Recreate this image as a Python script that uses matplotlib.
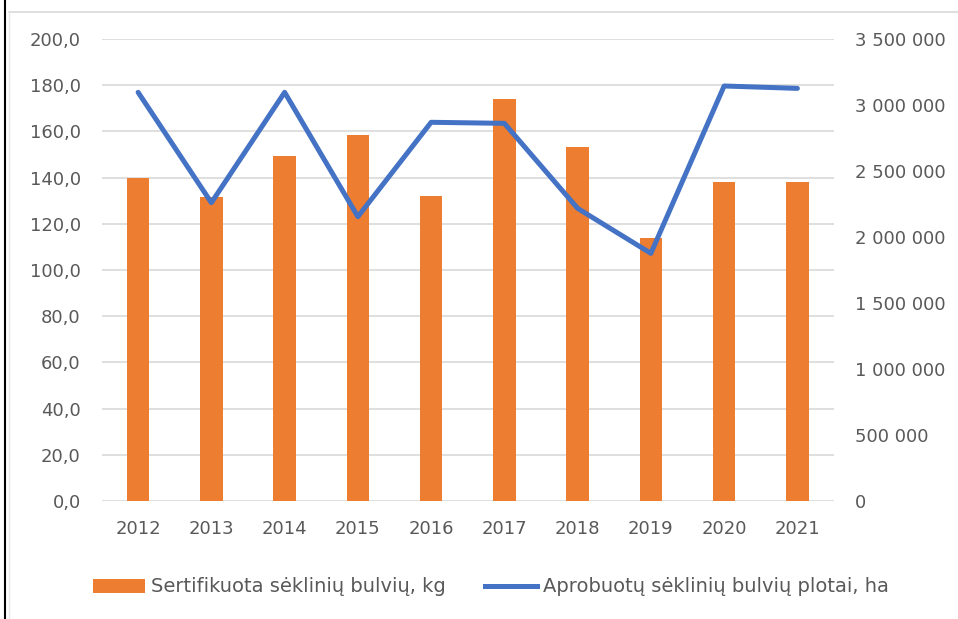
import matplotlib.pyplot as plt
import matplotlib.ticker as mticker
from matplotlib.lines import Line2D
from matplotlib.patches import Patch
import numpy as np

years = ['2012', '2013', '2014', '2015', '2016', '2017', '2018', '2019', '2020', '2021']
certified_kg = [140.0, 131.5, 149.5, 158.3, 132.2, 174.0, 153.2, 114.0, 138.3, 138.3]
approved_ha = [3096000, 2260000, 3096000, 2154000, 2869000, 2861000, 2217000, 1876000, 3144000, 3126000]

bar_label = 'Sertifikuota sėklinių bulvių, kg'
line_label = 'Aprobuotų sėklinių bulvių plotai, ha'

orange = '#ED7D31'
blue = '#4472C4'
grid_c = '#D9D9D9'
text_c = '#595959'

plt.rcParams['font.family'] = ['DejaVu Sans']
plt.rcParams['font.size'] = 13

fig = plt.figure(figsize=(9.58, 6.19), dpi=100)
ax = fig.add_axes([101.5 / 958, 1 - 501 / 619, (834 - 101.5) / 958, (501 - 39) / 619])

x = np.arange(len(years))
ax.bar(x, certified_kg, width=0.31, color=orange, zorder=2)
ax.set_xlim(-0.5, len(years) - 0.5)
ax.set_ylim(0, 200)
ax.set_yticks(np.arange(0, 201, 20))
ax.yaxis.set_major_formatter(mticker.FuncFormatter(lambda v, p: f'{v:.1f}'.replace('.', ',')))
ax.set_xticks(x)
ax.set_xticklabels(years)
ax.grid(axis='y', color=grid_c, linewidth=1.2, zorder=0)
ax.set_axisbelow(True)
for s in ax.spines.values():
    s.set_visible(False)
ax.tick_params(length=0, colors=text_c, labelsize=13)
ax.tick_params(axis='y', pad=15)
ax.tick_params(axis='x', pad=14)

ax2 = ax.twinx()
ax2.plot(x, approved_ha, color=blue, linewidth=3.6, solid_capstyle='round', zorder=3)
ax2.set_ylim(0, 3500000)
ax2.set_yticks(np.arange(0, 3500001, 500000))
ax2.yaxis.set_major_formatter(mticker.FuncFormatter(lambda v, p: f'{int(v):,}'.replace(',', ' ')))
for s in ax2.spines.values():
    s.set_visible(False)
ax2.tick_params(length=0, colors=text_c, labelsize=13, pad=15)

handles = [Patch(facecolor=orange, edgecolor='none'),
           Line2D([0], [0], color=blue, linewidth=3.6)]
fig.legend(handles, [bar_label, line_label], loc='center', bbox_to_anchor=(491 / 958, 1 - 587 / 619),
           ncol=2, frameon=False, handlelength=2.65, handletextpad=0.3, columnspacing=2.05,
           labelcolor=text_c, fontsize=14)

# page / chart frame lines
fig.add_artist(Line2D([5 / 958, 5 / 958], [0, 1], color='black', linewidth=1.5))
fig.add_artist(Line2D([9 / 958, 1], [1 - 12 / 619, 1 - 12 / 619], color=grid_c, linewidth=1.2))
fig.add_artist(Line2D([9 / 958, 9 / 958], [0, 1 - 12 / 619], color='#E8E8E8', linewidth=1))

fig.savefig('out.png', dpi=100)
